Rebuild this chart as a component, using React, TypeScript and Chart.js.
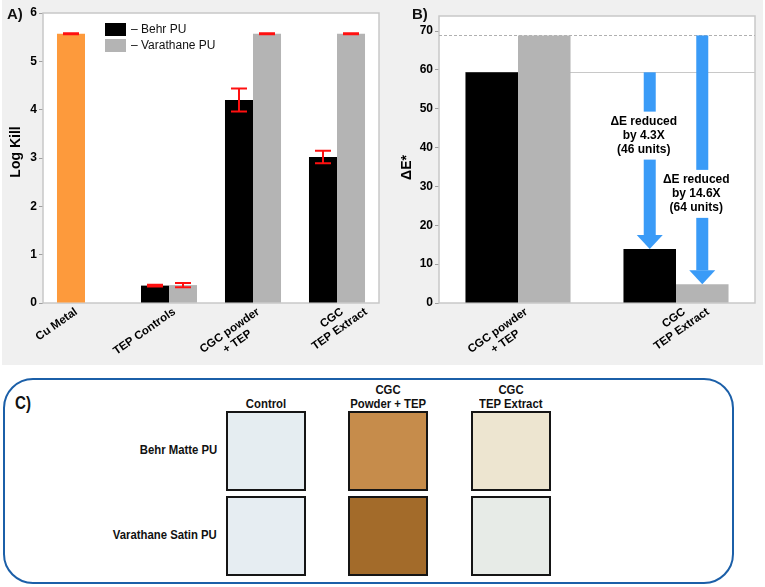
import React, { useEffect, useRef } from 'react';
import { Chart, registerables } from 'chart.js';

Chart.register(...registerables);

// ---------- Panel A data (Log Kill) ----------
const killCategories = ['Cu Metal', 'TEP Controls', 'CGC powder\n+ TEP', 'CGC\nTEP Extract'];
const cuMetalKill = [5.57, null, null, null];
const cuMetalKillErr = [0.01, null, null, null];
const behrKill = [null, 0.36, 4.2, 3.02];
const behrKillErr = [null, 0.02, 0.24, 0.13];
const varathaneKill = [null, 0.37, 5.57, 5.57];
const varathaneKillErr = [null, 0.045, 0.01, 0.01];
const killTicks = [0, 1, 2, 3, 4, 5, 6];

// ---------- Panel B data (Delta E*) ----------
const deltaCategories = ['CGC powder\n+ TEP', 'CGC\nTEP Extract'];
const behrDeltaE = [59.4, 13.9];
const varathaneDeltaE = [68.9, 4.8];
const deltaTicks = [0, 10, 20, 30, 40, 50, 60, 70];
const arrowSeries = [0, 1];
const arrowTexts = [
  ['\u0394E reduced', 'by 4.3X', '(46 units)'],
  ['\u0394E reduced', 'by 14.6X', '(64 units)'],
];
const arrowTextAt = [43.1, 28.1];

// ---------- Panel C data (swatches) ----------
const swatchCoatings = ['Behr Matte PU', 'Varathane Satin PU'];
const swatchTreatments = [['Control'], ['CGC', 'Powder + TEP'], ['CGC', 'TEP Extract']];
const swatchColors = [
  ['#e5edf1', '#c68c4b', '#ede5d0'],
  ['#e6edf2', '#a36b2a', '#e7ebe7'],
];

const FONT = '"Liberation Sans", Arial, Helvetica, sans-serif';
const BLACK = '#000000';
const GREY = '#b4b4b4';
const ORANGE = '#fd9a3c';
const RED = '#ff1010';
const BLUE = '#3a9bf7';

const framePlugin = {
  id: 'frame',
  beforeDraw(chart: any) {
    const { ctx, chartArea: a } = chart;
    ctx.save();
    ctx.fillStyle = '#ffffff';
    ctx.fillRect(a.left, a.top, a.right - a.left, a.bottom - a.top);
    ctx.restore();
  },
  beforeDatasetsDraw(chart: any) {
    const { ctx, chartArea: a } = chart;
    ctx.save();
    ctx.strokeStyle = '#c8c8c8';
    ctx.lineWidth = 1.5;
    ctx.strokeRect(a.left, a.top, a.right - a.left, a.bottom - a.top);
    ctx.restore();
  },
};

const xLabelPlugin = {
  id: 'xLabels',
  afterDraw(chart: any, _a: any, opts: any) {
    const { ctx, chartArea } = chart;
    const labels = chart.data.labels as string[];
    ctx.save();
    ctx.font = opts.font;
    ctx.fillStyle = '#000';
    labels.forEach((lab, i) => {
      const xs: number[] = [];
      chart.data.datasets.forEach((ds: any, di: number) => {
        const v = ds.data[i];
        if (v !== null && v !== undefined) {
          const el = chart.getDatasetMeta(di).data[i];
          if (el) xs.push(el.x);
        }
      });
      const cx = xs.length ? xs.reduce((s, b) => s + b, 0) / xs.length : chart.scales.x.getPixelForValue(i);
      const lines = lab.split('\n');
      const w0 = ctx.measureText(lines[0]).width;
      ctx.save();
      ctx.translate(cx + opts.dx, chartArea.bottom + opts.dy);
      ctx.rotate((-opts.angle * Math.PI) / 180);
      ctx.textAlign = 'center';
      ctx.textBaseline = 'top';
      lines.forEach((ln, k) => ctx.fillText(ln, -w0 / 2, k * opts.lineHeight));
      ctx.restore();
    });
    ctx.restore();
  },
};

const yTitlePlugin = {
  id: 'yTitle',
  afterDraw(chart: any, _a: any, opts: any) {
    const { ctx, chartArea } = chart;
    ctx.save();
    ctx.font = opts.font;
    ctx.fillStyle = '#000';
    ctx.translate(opts.x, (chartArea.top + chartArea.bottom) / 2 + opts.dy);
    ctx.rotate(-Math.PI / 2);
    ctx.textAlign = 'center';
    ctx.textBaseline = 'middle';
    ctx.fillText(opts.text, 0, 0);
    ctx.restore();
  },
};

const errorBarPlugin = {
  id: 'errorBars',
  afterDatasetsDraw(chart: any, _a: any, opts: any) {
    const { ctx } = chart;
    const y = chart.scales.y;
    ctx.save();
    ctx.strokeStyle = opts.color;
    ctx.lineWidth = opts.width;
    chart.data.datasets.forEach((ds: any, di: number) => {
      const errs = ds.errors;
      if (!errs) return;
      const meta = chart.getDatasetMeta(di);
      ds.data.forEach((v: number | null, i: number) => {
        const e = errs[i];
        if (v === null || v === undefined || e === null || e === undefined) return;
        const el = meta.data[i];
        const x = el.x;
        const yHi = y.getPixelForValue(v + e);
        const yLo = y.getPixelForValue(v - e);
        const h = opts.cap / 2;
        ctx.beginPath();
        ctx.moveTo(x, yHi);
        ctx.lineTo(x, yLo);
        ctx.moveTo(x - h, yHi);
        ctx.lineTo(x + h, yHi);
        ctx.moveTo(x - h, yLo);
        ctx.lineTo(x + h, yLo);
        ctx.stroke();
      });
    });
    ctx.restore();
  },
};

const boxLegendPlugin = {
  id: 'boxLegend',
  afterDraw(chart: any, _a: any, opts: any) {
    const { ctx, chartArea } = chart;
    let y = chartArea.top + opts.top;
    ctx.save();
    chart.data.datasets.forEach((ds: any) => {
      if (!opts.include.includes(ds.label)) return;
      const x = chartArea.left + opts.left;
      ctx.fillStyle = ds.backgroundColor;
      ctx.fillRect(x, y, 21, 13);
      ctx.fillStyle = '#111';
      ctx.font = opts.font;
      ctx.textBaseline = 'middle';
      ctx.textAlign = 'left';
      ctx.fillText('\u2013 ' + ds.label, x + 26, y + 7);
      y += 16;
    });
    ctx.restore();
  },
};

const refLinePlugin = {
  id: 'refLines',
  beforeDatasetsDraw(chart: any) {
    const { ctx, chartArea } = chart;
    const y = chart.scales.y;
    ctx.save();
    const vV = chart.data.datasets[1].data[0];
    const pyV = Math.round(y.getPixelForValue(vV)) + 0.5;
    ctx.strokeStyle = '#b0b0b0';
    ctx.lineWidth = 1;
    ctx.setLineDash([3, 2]);
    ctx.beginPath();
    ctx.moveTo(chartArea.left, pyV);
    ctx.lineTo(chartArea.right, pyV);
    ctx.stroke();
    const vB = chart.data.datasets[0].data[0];
    const elB = chart.getDatasetMeta(0).data[0];
    const pyB = Math.round(y.getPixelForValue(vB)) + 0.5;
    ctx.setLineDash([]);
    ctx.strokeStyle = '#c8c8c8';
    ctx.beginPath();
    ctx.moveTo(elB.x - elB.width / 2, pyB);
    ctx.lineTo(chartArea.right, pyB);
    ctx.stroke();
    ctx.restore();
  },
};

const arrowPlugin = {
  id: 'arrows',
  afterDatasetsDraw(chart: any, _a: any, opts: any) {
    const { ctx } = chart;
    const y = chart.scales.y;
    ctx.save();
    arrowSeries.forEach((ds, n) => {
      const data = chart.data.datasets[ds].data;
      const el = chart.getDatasetMeta(ds).data[1];
      const x = el.x;
      const yTop = y.getPixelForValue(data[0]);
      const yTip = y.getPixelForValue(data[1]);
      const lines = arrowTexts[n];
      const ty = y.getPixelForValue(arrowTextAt[n]);
      const half = (lines.length * opts.lineHeight) / 2 + 3;
      const sw = opts.shaft;
      const hw = opts.headW;
      const hh = opts.headH;
      ctx.fillStyle = BLUE;
      ctx.fillRect(x - sw / 2, yTop, sw, ty - half - yTop);
      ctx.fillRect(x - sw / 2, ty + half, sw, yTip - hh - (ty + half));
      ctx.beginPath();
      ctx.moveTo(x - hw / 2, yTip - hh);
      ctx.lineTo(x + hw / 2, yTip - hh);
      ctx.lineTo(x, yTip);
      ctx.closePath();
      ctx.fill();
      ctx.fillStyle = '#000';
      ctx.font = opts.font;
      ctx.textAlign = 'center';
      ctx.textBaseline = 'middle';
      lines.forEach((t, k) => {
        ctx.fillText(t, x + opts.dx, ty - ((lines.length - 1) * opts.lineHeight) / 2 + k * opts.lineHeight);
      });
    });
    ctx.restore();
  },
};

const tickFont = { family: FONT, size: 12, weight: 'bold' as const };

const narrowText = (origin: string): React.CSSProperties => ({
  display: 'inline-block',
  transform: 'scaleX(0.84)',
  transformOrigin: origin,
});

export default function App() {
  const aRef = useRef<HTMLCanvasElement>(null);
  const bRef = useRef<HTMLCanvasElement>(null);

  useEffect(() => {
    const chartA = new Chart(aRef.current as HTMLCanvasElement, {
      type: 'bar',
      data: {
        labels: killCategories,
        datasets: [
          { label: 'Cu Metal', data: cuMetalKill, errors: cuMetalKillErr, backgroundColor: ORANGE, stack: 'left' } as any,
          { label: 'Behr PU', data: behrKill, errors: behrKillErr, backgroundColor: BLACK, stack: 'left' } as any,
          { label: 'Varathane PU', data: varathaneKill, errors: varathaneKillErr, backgroundColor: GREY, stack: 'right' } as any,
        ],
      },
      options: {
        responsive: false,
        animation: false,
        categoryPercentage: 0.667,
        barPercentage: 1,
        layout: { padding: { top: 13, right: 1, left: 0, bottom: 0 } },
        plugins: {
          legend: { display: false },
          tooltip: { enabled: false },
          xLabels: { font: `bold 11.5px ${FONT}`, dx: 2, dy: 3, angle: 35, lineHeight: 13.5 },
          yTitle: { text: 'Log Kill', font: `bold 14px ${FONT}`, x: 16, dy: -6 },
          errorBars: { color: RED, width: 2, cap: 16 },
          boxLegend: { include: ['Behr PU', 'Varathane PU'], left: 62, top: 10, font: `12px ${FONT}` },
        } as any,
        scales: {
          x: {
            grid: { display: false },
            border: { display: false },
            ticks: { display: false },
            afterFit: (s: any) => { s.height = 62; },
          },
          y: {
            min: 0,
            max: 6,
            stacked: false,
            afterBuildTicks: (s: any) => { s.ticks = killTicks.map((v) => ({ value: v })); },
            ticks: { font: tickFont, color: '#000', padding: 2 },
            grid: { drawOnChartArea: false, tickLength: 4, color: '#a0a0a0' },
            border: { display: false },
            afterFit: (s: any) => { s.width = 43; },
          },
        },
      },
      plugins: [framePlugin, xLabelPlugin, yTitlePlugin, errorBarPlugin, boxLegendPlugin],
    });

    const chartB = new Chart(bRef.current as HTMLCanvasElement, {
      type: 'bar',
      data: {
        labels: deltaCategories,
        datasets: [
          { label: 'Behr PU', data: behrDeltaE, backgroundColor: BLACK },
          { label: 'Varathane PU', data: varathaneDeltaE, backgroundColor: GREY },
        ],
      },
      options: {
        responsive: false,
        animation: false,
        categoryPercentage: 0.665,
        barPercentage: 1,
        layout: { padding: { top: 16, right: 10, left: 0, bottom: 0 } },
        plugins: {
          legend: { display: false },
          tooltip: { enabled: false },
          xLabels: { font: `bold 11.5px ${FONT}`, dx: 5, dy: 3, angle: 35, lineHeight: 13.5 },
          yTitle: { text: '\u0394E*', font: `bold 14px ${FONT}`, x: 27, dy: 8 },
          arrows: { font: `bold 12px ${FONT}`, lineHeight: 14, shaft: 12, headW: 26, headH: 14, dx: -6 },
        } as any,
        scales: {
          x: {
            grid: { display: false },
            border: { display: false },
            ticks: { display: false },
            afterFit: (s: any) => { s.height = 62; },
          },
          y: {
            min: 0,
            max: 73.9,
            afterBuildTicks: (s: any) => { s.ticks = deltaTicks.map((v) => ({ value: v })); },
            ticks: { font: tickFont, color: '#000', padding: 2 },
            grid: { drawOnChartArea: false, tickLength: 4, color: '#a0a0a0' },
            border: { display: false },
            afterFit: (s: any) => { s.width = 59; },
          },
        },
      },
      plugins: [framePlugin, refLinePlugin, xLabelPlugin, yTitlePlugin, arrowPlugin],
    });

    return () => {
      chartA.destroy();
      chartB.destroy();
    };
  }, []);

  const colX = [226, 348, 471];
  const rowY = [411, 496];
  const swatch = 80;
  const cText: React.CSSProperties = {
    position: 'absolute',
    fontFamily: FONT,
    fontWeight: 'bold',
    fontSize: 13.5,
    lineHeight: '15px',
    color: '#111',
    whiteSpace: 'nowrap',
  };

  return (
    <div style={{ position: 'fixed', left: 0, top: 0, width: 765, height: 587, background: '#fff', overflow: 'hidden', fontFamily: FONT }}>
      <div style={{ position: 'absolute', left: 2, top: 0, width: 761, height: 365, background: '#f0f0f0' }} />
      <canvas ref={aRef} width={380} height={365} style={{ position: 'absolute', left: 0, top: 0, width: 380, height: 365 }} />
      <canvas ref={bRef} width={385} height={365} style={{ position: 'absolute', left: 380, top: 0, width: 385, height: 365 }} />
      <div style={{ position: 'absolute', left: 7, top: 5, fontSize: 15, lineHeight: '17px', fontWeight: 'bold', color: '#111' }}>A)</div>
      <div style={{ position: 'absolute', left: 412, top: 5, fontSize: 15, lineHeight: '17px', fontWeight: 'bold', color: '#111' }}>B)</div>

      <div style={{ position: 'absolute', left: 3, top: 378, width: 731, height: 206, border: '2px solid #1b5fa8', borderRadius: 30, boxSizing: 'border-box' }} />
      <div style={{ ...cText, left: 15, top: 393, fontSize: 18, lineHeight: '20px' }}>
        <span style={narrowText('left center')}>C)</span>
      </div>

      {swatchTreatments.map((lines, c) =>
        lines.map((t, k) => (
          <div
            key={`h${c}${k}`}
            style={{
              ...cText,
              left: colX[c] + swatch / 2 - 60,
              width: 120,
              textAlign: 'center',
              top: 403 - (lines.length - 1 - k) * 14.5 - 7,
            }}
          >
            <span style={narrowText('center center')}>{t}</span>
          </div>
        ))
      )}

      {swatchCoatings.map((name, r) => (
        <div
          key={`r${r}`}
          style={{
            ...cText,
            left: 17,
            width: 200,
            textAlign: 'right',
            top: rowY[r] + 38 - 7,
          }}
        >
          <span style={narrowText('right center')}>{name}</span>
        </div>
      ))}

      {swatchColors.map((row, r) =>
        row.map((col, c) => (
          <div
            key={`s${r}${c}`}
            style={{
              position: 'absolute',
              left: colX[c],
              top: rowY[r],
              width: swatch,
              height: swatch,
              background: col,
              border: '2px solid #151515',
              boxSizing: 'border-box',
            }}
          />
        ))
      )}
    </div>
  );
}
